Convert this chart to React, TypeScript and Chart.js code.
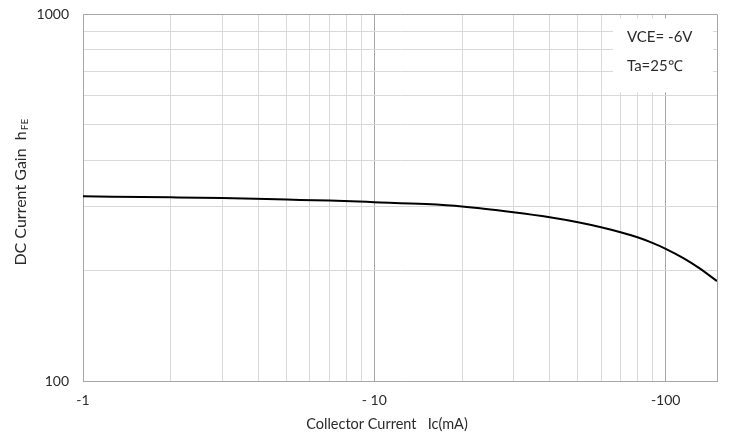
import { useEffect, useRef } from 'react';
import { Chart, registerables } from 'chart.js';
Chart.register(...registerables);

// Collector current magnitude (mA) and DC current gain hFE
const currentMA = [1, 2, 3, 5, 7, 10, 15, 20, 30, 40, 50, 60, 70, 80, 90, 100, 115, 130, 150];
const hfe = [319, 317, 315.5, 312.5, 310.5, 307.5, 303.8, 299.3, 288.6, 279.6, 271, 262.6, 254.5, 246.6, 238.1, 229.4, 216.4, 203.5, 187.3];

// grid lines (log decades) and labelled ticks
const xGridValues = [1, 2, 3, 4, 5, 6, 7, 8, 9, 10, 20, 30, 40, 50, 60, 70, 80, 90, 100, 150];
const yGridValues = [100, 200, 300, 400, 500, 600, 700, 800, 900, 1000];
const xLabelValues = [1, 10, 100];
const xLabelTexts = ['-1', '- 10', '-100'];
const yLabelValues = [100, 1000];
const yLabelTexts = ['100', '1000'];

const noteLines = ['VCE= -6V', 'Ta=25\u2103'];
const xTitle = 'Collector Current   Ic(mA)';
const yTitleMain = 'DC Current Gain  h';
const yTitleSub = 'FE';

const FONT = 'Lato, "Open Sans", sans-serif';
const TEXT = '#2b2b2b';
const MINOR = '#d9d9d9';
const MAJOR = '#a6a6a6';

const overlayPlugin = {
  id: 'overlay',
  afterDraw(chart: any) {
    const { ctx, chartArea } = chart;
    ctx.save();
    // note box
    const bx = chartArea.right - 104;
    const by = chartArea.top + 4;
    ctx.fillStyle = '#ffffff';
    ctx.fillRect(bx, by, 100, 74);
    ctx.fillStyle = TEXT;
    ctx.font = `15px ${FONT}`;
    ctx.textAlign = 'left';
    ctx.textBaseline = 'middle';
    ctx.fillText(noteLines[0], bx + 14, by + 19);
    ctx.fillText(noteLines[1], bx + 14, by + 48);
    // x title
    ctx.textAlign = 'center';
    ctx.font = `14.5px ${FONT}`;
    ctx.fillText(xTitle, (chartArea.left + chartArea.right) / 2 - 13, chartArea.bottom + 43);
    // y title with subscript
    ctx.translate(21, (chartArea.top + chartArea.bottom) / 2 - 5);
    ctx.rotate(-Math.PI / 2);
    ctx.font = `16px ${FONT}`;
    const w1 = ctx.measureText(yTitleMain).width;
    ctx.font = `10px ${FONT}`;
    const w2 = ctx.measureText(yTitleSub).width;
    const start = -(w1 + w2) / 2;
    ctx.textAlign = 'left';
    ctx.font = `16px ${FONT}`;
    ctx.fillText(yTitleMain, start, 0);
    ctx.font = `10px ${FONT}`;
    ctx.fillText(yTitleSub, start + w1 + 1, 4);
    ctx.restore();
  },
};

export default function App() {
  const ref = useRef<HTMLCanvasElement>(null);
  useEffect(() => {
    const chart = new Chart(ref.current!, {
      type: 'line',
      data: {
        datasets: [
          {
            data: currentMA.map((x, i) => ({ x, y: hfe[i] })),
            borderColor: '#000000',
            borderWidth: 2,
            pointRadius: 0,
            cubicInterpolationMode: 'monotone',
            fill: false,
          },
        ],
      },
      options: {
        animation: false,
        responsive: true,
        maintainAspectRatio: false,
        layout: { padding: { left: 0, right: 12, top: 6, bottom: 0 } },
        plugins: { legend: { display: false }, tooltip: { enabled: false }, title: { display: false } },
        scales: {
          x: {
            type: 'logarithmic',
            min: 1,
            max: 150,
            afterFit: (s: any) => { s.height = 60; },
            afterBuildTicks: (s: any) => { s.ticks = xGridValues.map((value) => ({ value })); },
            border: { color: MAJOR, width: 1 },
            grid: {
              drawTicks: false,
              lineWidth: 1,
              color: (c: any) => {
                const v = c.tick ? c.tick.value : 0;
                return xLabelValues.includes(v) || v === 150 ? MAJOR : MINOR;
              },
            },
            ticks: {
              autoSkip: false,
              maxRotation: 0,
              padding: 11,
              color: TEXT,
              font: { family: FONT, size: 14 },
              callback: (v: any) => {
                const i = xLabelValues.indexOf(Number(v));
                return i >= 0 ? xLabelTexts[i] : '';
              },
            },
          },
          y: {
            type: 'logarithmic',
            min: 100,
            max: 1000,
            afterFit: (s: any) => { s.width = 83; },
            afterBuildTicks: (s: any) => { s.ticks = yGridValues.map((value) => ({ value })); },
            border: { color: MAJOR, width: 1 },
            grid: {
              drawTicks: false,
              lineWidth: 1,
              color: (c: any) => {
                const v = c.tick ? c.tick.value : 0;
                return v === 1000 || v === 100 ? MAJOR : MINOR;
              },
            },
            ticks: {
              autoSkip: false,
              padding: 14,
              color: TEXT,
              font: { family: FONT, size: 14 },
              callback: (v: any) => {
                const i = yLabelValues.indexOf(Number(v));
                return i >= 0 ? yLabelTexts[i] : '';
              },
            },
          },
        },
      },
      plugins: [overlayPlugin],
    } as any);
    return () => chart.destroy();
  }, []);
  return (
    <div style={{ position: 'absolute', left: 0, top: -8, width: 729, height: 449, background: '#fff' }}>
      <canvas ref={ref} />
    </div>
  );
}
